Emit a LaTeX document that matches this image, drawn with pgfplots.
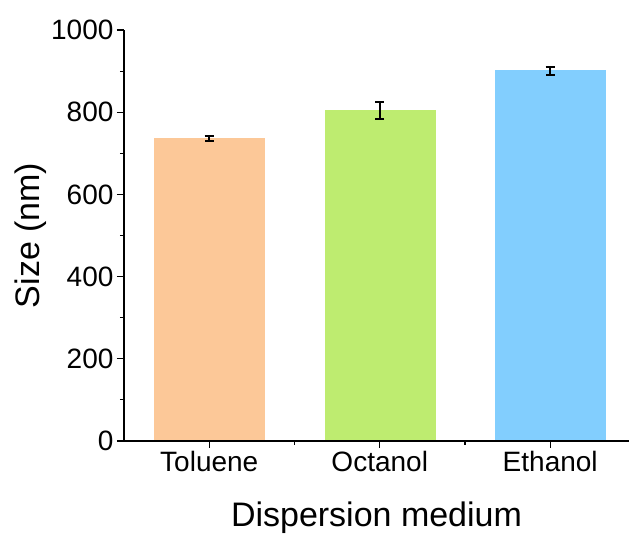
\documentclass[border=0pt]{standalone}
\usepackage{pgfplots}
\pgfplotsset{compat=1.18}
\usepackage{fontspec}
\setmainfont{Liberation Sans}
\definecolor{cTol}{RGB}{252,200,152}
\definecolor{cOct}{RGB}{190,236,112}
\definecolor{cEth}{RGB}{130,206,254}
\begin{document}
\begin{tikzpicture}
\useasboundingbox (-124pt,-93pt) rectangle (506pt,441pt);
\begin{axis}[
  scale only axis,
  width=505pt, height=411pt,
  xmin=-0.5, xmax=2.462,
  ymin=0, ymax=1000,
  axis x line*=bottom, axis y line*=left,
  axis line style={-, line width=1.1pt},
  axis on top,
  xtick={0,1,2},
  xticklabels={Toluene,Octanol,Ethanol},
  minor xtick={0.5,1.5},
  ytick={0,200,400,600,800,1000},
  minor ytick={100,300,500,700,900},
  tick align=outside,
  major tick length=7pt, minor tick length=4pt,
  every tick/.style={black, line width=1.1pt},
  tick label style={font=\fontsize{28}{28}\selectfont},
  /pgf/number format/assume math mode=true,
  /pgf/number format/1000 sep={},
  xlabel={Dispersion medium},
  ylabel={Size (nm)},
  label style={font=\fontsize{34}{34}\selectfont},
  xlabel style={yshift=-23pt},
  ylabel style={yshift=-2pt},
  ybar, bar width=110pt,
  clip=false,
]
\addplot[fill=cTol, draw=cTol, bar shift=0pt,
  error bars/.cd, y dir=both, y explicit,
  error mark options={rotate=90, mark size=4.5pt, line width=2pt, black},
  error bar style={line width=2pt, black}]
  coordinates {(0,737) +- (0,6)};
\addplot[fill=cOct, draw=cOct, bar shift=0pt,
  error bars/.cd, y dir=both, y explicit,
  error mark options={rotate=90, mark size=4.5pt, line width=2pt, black},
  error bar style={line width=2pt, black}]
  coordinates {(1,804) +- (0,20)};
\addplot[fill=cEth, draw=cEth, bar shift=0pt,
  error bars/.cd, y dir=both, y explicit,
  error mark options={rotate=90, mark size=4.5pt, line width=2pt, black},
  error bar style={line width=2pt, black}]
  coordinates {(2,901) +- (0,10)};
\end{axis}
\end{tikzpicture}
\end{document}
